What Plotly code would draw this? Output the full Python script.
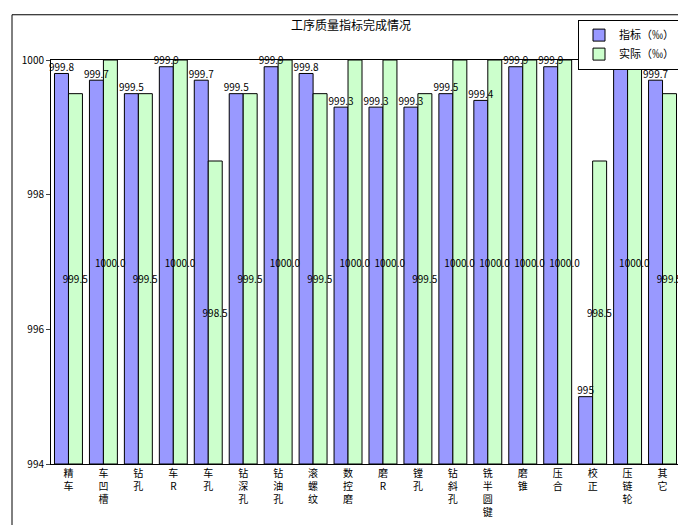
import plotly.graph_objects as go

categories = ["精车", "车凹槽", "钻孔", "车R", "车孔", "钻深孔", "钻油孔", "滚螺纹", "数控磨",
              "磨R", "镗孔", "钻斜孔", "铣半圆键", "磨锥", "压合", "校正", "压链轮", "其它"]
target = [999.8, 999.7, 999.5, 999.9, 999.7, 999.5, 999.9, 999.8, 999.3,
          999.3, 999.3, 999.5, 999.4, 999.9, 999.9, 995.0, 999.9, 999.7]
actual = [999.5, 1000.0, 999.5, 1000.0, 998.5, 999.5, 1000.0, 999.5, 1000.0,
          1000.0, 999.5, 1000.0, 1000.0, 1000.0, 1000.0, 998.5, 1000.0, 999.5]

# vertical text for category labels
tick_text = ["<br>".join(c) for c in categories]
font = "SimSun, Noto Sans CJK SC, sans-serif"
idx = list(range(len(categories)))


def fmt(v):
    return "995" if v == 995 else f"{v:.1f}"


fig = go.Figure()
fig.add_trace(go.Bar(
    x=idx, y=[v - 994 for v in target], base=994,
    name="指标（‰）",
    marker=dict(color="#9999FF", line=dict(color="black", width=1)),
))
fig.add_trace(go.Bar(
    x=idx, y=[v - 994 for v in actual], base=994,
    name="实际（‰）",
    marker=dict(color="#CCFFCC", line=dict(color="black", width=1)),
    text=[f"{v:.1f}" for v in actual], textposition="inside",
    insidetextanchor="middle", textangle=0,
    textfont=dict(size=10, color="black"),
))
# target labels drawn on top so the neighbouring bars don't hide them
fig.add_trace(go.Scatter(
    x=[i - 0.2 for i in idx], y=target, mode="text",
    text=[fmt(v) for v in target], textposition="top center",
    textfont=dict(size=10, color="black"), showlegend=False,
    hoverinfo="skip", cliponaxis=False,
))
fig.update_layout(
    width=686, height=525,
    title=dict(text="工序质量指标完成情况", x=0.5, y=0.975, font=dict(size=12, color="black")),
    font=dict(family=font, size=10, color="black"),
    plot_bgcolor="white", paper_bgcolor="white",
    bargap=0.2, bargroupgap=0, barmode="group",
    margin=dict(l=43, r=14, t=48, b=69),
    legend=dict(x=1.0, y=1.1, xanchor="right", yanchor="top",
                bordercolor="black", borderwidth=1, font=dict(size=11)),
    uniformtext=dict(minsize=10, mode="show"),
    xaxis=dict(tickvals=idx, ticktext=tick_text, range=[-0.5, len(idx) - 0.5],
               showline=True, linecolor="black", ticks="", tickangle=0, mirror=True),
    yaxis=dict(range=[994, 1000], dtick=2, showgrid=False, showline=True,
               linecolor="black", ticks="outside", ticklen=4, mirror=True,
               tickformat="d"),
    shapes=[dict(type="rect", xref="paper", yref="paper", x0=-0.062, x1=1.015,
                 y0=-0.17, y1=1.112, line=dict(color="black", width=1))],
)
fig.write_html("out.html")
